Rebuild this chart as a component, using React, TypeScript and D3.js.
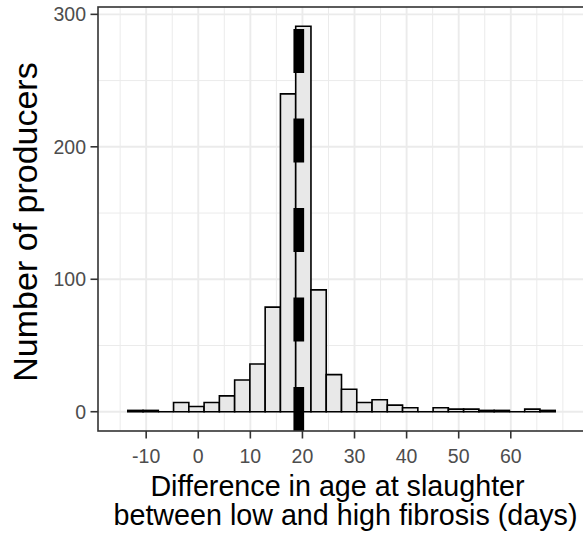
import React from "react";
import * as d3 from "d3";

// ---- data ----
const xLimits = [-15, 70];
const nBins = 30; // ggplot bins over the x limits; first & last bins fall outside
const counts = [1, 1, 0, 7, 4, 7, 12, 24, 36, 79, 240, 291, 92, 28, 17, 7, 9, 5, 3, 0, 3, 2, 2, 1, 1, 0, 2, 1];
const meanDiff = 19.3;
const xBreaks = [-10, 0, 10, 20, 30, 40, 50, 60];
const xMinor = [-15, -5, 5, 15, 25, 35, 45, 55, 65, 70];
const yBreaks = [0, 100, 200, 300];
const yMinor = [50, 150, 250];
const xTitle1 = "Difference in age at slaughter ";
const xTitle2 = " between low and high fibrosis (days)";
const yTitle = "Number of producers";

const W = 583;
const H = 533;
const panel = { left: 98, right: 585, top: 7, bottom: 431 };
const FONT = "'Liberation Sans', Arial, Helvetica, sans-serif";

export default function App() {
  const binWidth = (xLimits[1] - xLimits[0]) / (nBins - 1);
  const firstEdge = xLimits[0] + binWidth / 2;
  const bins = counts.map((c, i) => ({
    x0: firstEdge + i * binWidth,
    x1: firstEdge + (i + 1) * binWidth,
    count: c,
  }));

  const xr = xLimits[1] - xLimits[0];
  const x = d3
    .scaleLinear()
    .domain([xLimits[0] - 0.05 * xr, xLimits[1] + 0.05 * xr])
    .range([panel.left, panel.right]);
  const yMax = d3.max(counts) as number;
  const y = d3
    .scaleLinear()
    .domain([-0.05 * yMax, 1.05 * yMax])
    .range([panel.bottom, panel.top]);

  const gridMajor = "#EBEBEB";
  const ink = "#333333";

  return (
    <svg
      width={W}
      height={H}
      style={{ position: "absolute", left: 0, top: 0, background: "#fff" }}
      fontFamily={FONT}
    >
      <rect x={0} y={0} width={W} height={H} fill="#fff" />
      <defs>
        <clipPath id="panelClip">
          <rect x={panel.left} y={panel.top} width={panel.right - panel.left} height={panel.bottom - panel.top} />
        </clipPath>
      </defs>
      <g clipPath="url(#panelClip)">
        {xMinor.map((v) => (
          <line key={"xm" + v} x1={x(v)} x2={x(v)} y1={panel.top} y2={panel.bottom} stroke={gridMajor} strokeWidth={1} />
        ))}
        {yMinor.map((v) => (
          <line key={"ym" + v} x1={panel.left} x2={panel.right} y1={y(v)} y2={y(v)} stroke={gridMajor} strokeWidth={1} />
        ))}
        {xBreaks.map((v) => (
          <line key={"xM" + v} x1={x(v)} x2={x(v)} y1={panel.top} y2={panel.bottom} stroke={gridMajor} strokeWidth={1.9} />
        ))}
        {yBreaks.map((v) => (
          <line key={"yM" + v} x1={panel.left} x2={panel.right} y1={y(v)} y2={y(v)} stroke={gridMajor} strokeWidth={1.9} />
        ))}
        {bins.map((b, i) => {
          const x0 = x(b.x0);
          const x1 = x(b.x1);
          const yt = y(b.count);
          const yb = y(0);
          return (
            <path
              key={"bar" + i}
              d={`M${x0},${yb}V${yt}H${x1}V${yb}Z`}
              fill="#E8E8E8"
              stroke="#000"
              strokeWidth={1.6}
              strokeLinejoin="miter"
            />
          );
        })}
        <line
          x1={x(meanDiff)}
          x2={x(meanDiff)}
          y1={panel.bottom}
          y2={panel.top}
          stroke="#000"
          strokeWidth={10.7}
          strokeDasharray="44 45.5"
        />
      </g>
      {/* panel border */}
      <rect
        x={panel.left}
        y={panel.top}
        width={panel.right - panel.left}
        height={panel.bottom - panel.top}
        fill="none"
        stroke={ink}
        strokeWidth={1.6}
      />
      {/* x ticks */}
      {xBreaks.map((v) => (
        <g key={"xt" + v}>
          <line x1={x(v)} x2={x(v)} y1={panel.bottom} y2={panel.bottom + 7.5} stroke={ink} strokeWidth={1.6} />
          <text x={x(v)} y={463} textAnchor="middle" fontSize={19.5} fill="#4D4D4D">
            {v}
          </text>
        </g>
      ))}
      {/* y ticks */}
      {yBreaks.map((v) => (
        <g key={"yt" + v}>
          <line x1={panel.left - 7.5} x2={panel.left} y1={y(v)} y2={y(v)} stroke={ink} strokeWidth={1.6} />
          <text x={86} y={y(v)} dy="0.36em" textAnchor="end" fontSize={19.5} fill="#4D4D4D">
            {v}
          </text>
        </g>
      ))}
      {/* titles */}
      <text
        x={(panel.left + panel.right) / 2}
        y={496}
        textAnchor="middle"
        fontSize={28.7}
        fill="#000"
        xmlSpace="preserve"
        style={{ whiteSpace: "pre" }}
      >
        {xTitle1}
      </text>
      <text
        x={(panel.left + panel.right) / 2}
        y={525}
        textAnchor="middle"
        fontSize={28.7}
        fill="#000"
        xmlSpace="preserve"
        style={{ whiteSpace: "pre" }}
      >
        {xTitle2}
      </text>
      <text
        transform={`translate(37,${(panel.top + panel.bottom) / 2 + 3}) rotate(-90)`}
        textAnchor="middle"
        fontSize={34}
        fill="#000"
      >
        {yTitle}
      </text>
    </svg>
  );
}
